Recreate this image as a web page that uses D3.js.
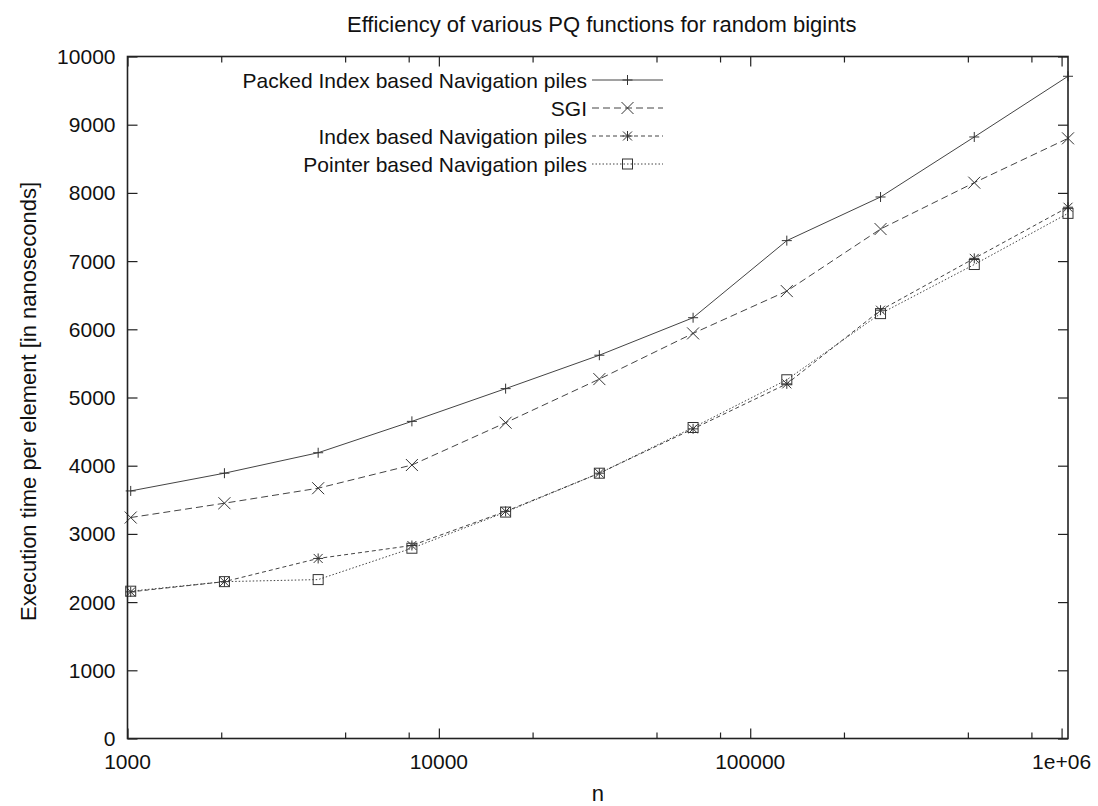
<!DOCTYPE html>
<html>
  <head>
    <meta charset="UTF-8">
    <style>
      body {
        margin: 0;
        background: #fff;
        font-family: "Liberation Sans", Arial, Helvetica, sans-serif;
      }

      text {
        fill: #111;
        font-size: 21px;
      }

      .title {
        font-size: 22px;
      }
    </style>
    <script src="https://d3js.org/d3.v7.min.js"></script>
  </head>

  <body>
    <svg id="pq-chart"></svg>

    <script type="text/javascript">
      // problem sizes n (powers of two)
      let sizes = [1024, 2048, 4096, 8192, 16384, 32768, 65536, 131072, 262144, 524288, 1048576]

      let seriesNames = [
        'Packed Index based Navigation piles',
        'SGI',
        'Index based Navigation piles',
        'Pointer based Navigation piles'
      ]

      // execution time per element, ns
      let packedIndex = [3630, 3890, 4190, 4650, 5130, 5620, 6170, 7300, 7940, 8820, 9710]
      let sgi = [3240, 3450, 3670, 4010, 4630, 5270, 5940, 6560, 7470, 8150, 8800]
      let indexBased = [2150, 2300, 2640, 2830, 3330, 3890, 4540, 5200, 6280, 7040, 7790]
      let pointerBased = [2160, 2300, 2330, 2790, 3320, 3890, 4560, 5260, 6230, 6950, 7700]

      let xMajorTicks = [1000, 10000, 100000, 1000000]
      let xTickLabels = ['1000', '10000', '100000', '1e+06']
      let xMinorTicks = [2000, 5000, 8000, 20000, 50000, 80000, 200000, 500000, 800000]
      let yTicks = [0, 1000, 2000, 3000, 4000, 5000, 6000, 7000, 8000, 9000, 10000]

      function getConfig() {
        let width = 1098
        let height = 806
        let margin = {top: 56.5, right: 30, bottom: 67.5, left: 127.5}
        let bodyWidth = width - margin.left - margin.right
        let bodyHeight = height - margin.top - margin.bottom

        let container = d3.select('#pq-chart')
          .attr('width', width)
          .attr('height', height)

        return {width, height, margin, bodyWidth, bodyHeight, container}
      }

      function getScales(config) {
        let x = d3.scaleLog()
          .domain([1000, 1048576])
          .range([config.margin.left, config.margin.left + config.bodyWidth])
        let y = d3.scaleLinear()
          .domain([0, 10000])
          .range([config.margin.top + config.bodyHeight, config.margin.top])
        return {x, y}
      }

      // marker shapes in gnuplot style
      function drawMarker(g, kind, cx, cy) {
        let s = 5
        let stroke = '#333'
        if (kind === 'plus' || kind === 'star') {
          g.append('path')
            .attr('d', `M${cx - s},${cy}H${cx + s}M${cx},${cy - s}V${cy + s}`)
            .attr('stroke', stroke).attr('fill', 'none')
        }
        if (kind === 'cross' || kind === 'star') {
          let c = kind === 'cross' ? 6 : 4.5
          g.append('path')
            .attr('d', `M${cx - c},${cy - c}L${cx + c},${cy + c}M${cx - c},${cy + c}L${cx + c},${cy - c}`)
            .attr('stroke', stroke).attr('fill', 'none')
        }
        if (kind === 'box') {
          g.append('rect')
            .attr('x', cx - 5).attr('y', cy - 5)
            .attr('width', 10).attr('height', 10)
            .attr('stroke', stroke).attr('fill', 'none')
        }
      }

      function drawAxes(config, scales) {
        let {container, margin, bodyWidth, bodyHeight} = config
        let {x, y} = scales
        let top = margin.top
        let bottom = margin.top + bodyHeight
        let left = margin.left
        let right = margin.left + bodyWidth

        let axisG = container.append('g')

        // bottom and top (mirrored) x ticks
        axisG.append('g')
          .attr('transform', `translate(0,${bottom})`)
          .call(d3.axisTop(x).tickValues(xMajorTicks).tickSize(10).tickFormat(''))
          .call(g => g.select('.domain').remove())
        axisG.append('g')
          .attr('transform', `translate(0,${bottom})`)
          .call(d3.axisTop(x).tickValues(xMinorTicks).tickSize(6).tickFormat(''))
          .call(g => g.select('.domain').remove())
        axisG.append('g')
          .attr('transform', `translate(0,${top})`)
          .call(d3.axisBottom(x).tickValues(xMajorTicks).tickSize(10).tickFormat(''))
          .call(g => g.select('.domain').remove())
        axisG.append('g')
          .attr('transform', `translate(0,${top})`)
          .call(d3.axisBottom(x).tickValues(xMinorTicks).tickSize(6).tickFormat(''))
          .call(g => g.select('.domain').remove())

        // left and right y ticks
        axisG.append('g')
          .attr('transform', `translate(${left},0)`)
          .call(d3.axisRight(y).tickValues(yTicks).tickSize(10).tickFormat(''))
          .call(g => g.select('.domain').remove())
        axisG.append('g')
          .attr('transform', `translate(${right},0)`)
          .call(d3.axisLeft(y).tickValues(yTicks).tickSize(10).tickFormat(''))
          .call(g => g.select('.domain').remove())

        axisG.selectAll('.tick line')
          .attr('stroke', '#222')
          .attr('stroke-width', 1.2)

        // tick labels
        container.append('g')
          .selectAll('text')
          .data(yTicks)
          .join('text')
            .attr('x', left - 12)
            .attr('y', d => y(d))
            .attr('dy', '0.36em')
            .attr('text-anchor', 'end')
            .text(d => d)

        container.append('g')
          .selectAll('text')
          .data(xMajorTicks)
          .join('text')
            .attr('x', d => x(d))
            .attr('y', bottom + 30)
            .attr('text-anchor', 'middle')
            .text((d, i) => xTickLabels[i])

        // border box
        container.append('rect')
          .attr('x', left)
          .attr('y', top)
          .attr('width', bodyWidth)
          .attr('height', bodyHeight)
          .attr('fill', 'none')
          .attr('stroke', '#222')
          .attr('stroke-width', 1.6)

        // titles
        container.append('text')
          .attr('class', 'title')
          .attr('x', (left + right) / 2 + 4)
          .attr('y', 31.5)
          .attr('text-anchor', 'middle')
          .text('Efficiency of various PQ functions for random bigints')

        container.append('text')
          .attr('class', 'title')
          .attr('x', (left + right) / 2)
          .attr('y', 801)
          .attr('text-anchor', 'middle')
          .text('n')

        container.append('text')
          .attr('class', 'title')
          .attr('transform', `translate(36,${(top + bottom) / 2 + 4}) rotate(-90)`)
          .attr('text-anchor', 'middle')
          .text('Execution time per element [in nanoseconds]')
      }

      function drawSeries(config, scales) {
        let {container} = config
        let {x, y} = scales

        let series = [
          {name: seriesNames[0], values: packedIndex, dash: null, marker: 'plus'},
          {name: seriesNames[1], values: sgi, dash: '7,4', marker: 'cross'},
          {name: seriesNames[2], values: indexBased, dash: '4,3', marker: 'star'},
          {name: seriesNames[3], values: pointerBased, dash: '1.5,2', marker: 'box'}
        ]

        let line = d3.line()
          .x(d => x(d[0]))
          .y(d => y(d[1]))

        series.forEach((s, i) => {
          let points = sizes.map((n, j) => [n, s.values[j]])
          let g = container.append('g')

          g.append('path')
            .datum(points)
            .attr('d', line)
            .attr('fill', 'none')
            .attr('stroke', '#444')
            .attr('stroke-width', 1)
            .attr('stroke-dasharray', s.dash)

          points.forEach(p => drawMarker(g, s.marker, x(p[0]), y(p[1])))

          // legend entry
          let ly = 80 + i * 28
          let legend = container.append('g')
          legend.append('text')
            .attr('x', 587)
            .attr('y', ly)
            .attr('dy', '0.36em')
            .attr('text-anchor', 'end')
            .text(s.name)
          legend.append('line')
            .attr('x1', 592).attr('x2', 663)
            .attr('y1', ly).attr('y2', ly)
            .attr('stroke', '#444')
            .attr('stroke-width', 1)
            .attr('stroke-dasharray', s.dash)
          drawMarker(legend, s.marker, 627.5, ly)
        })
      }

      function showChart() {
        let config = getConfig()
        let scales = getScales(config)
        drawSeries(config, scales)
        drawAxes(config, scales)
      }

      showChart()
    </script>
  </body>
</html>
